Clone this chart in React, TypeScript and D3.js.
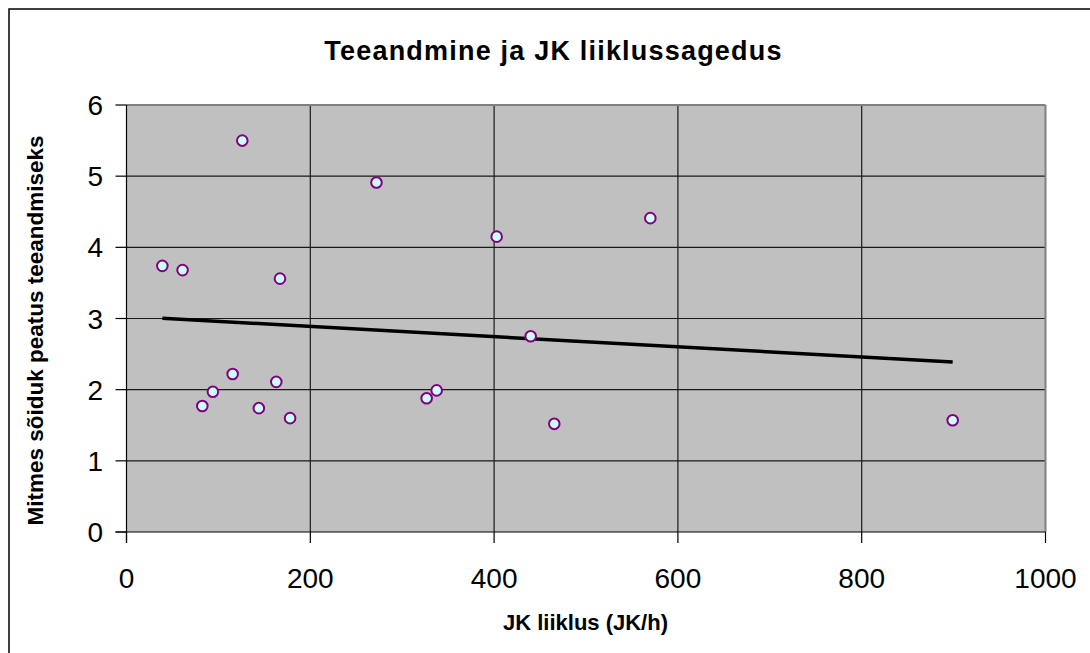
import React from "react";
import * as d3 from "d3";

const traffic = [126, 272, 39, 61, 167, 82.5, 94, 115.5, 144, 163, 178, 326.6, 337.5, 402.8, 570, 439.8, 465.5, 899];
const stops = [5.5, 4.91, 3.74, 3.68, 3.56, 1.77, 1.97, 2.22, 1.74, 2.11, 1.6, 1.88, 1.99, 4.15, 4.41, 2.75, 1.52, 1.57];
const xTicks = [0, 200, 400, 600, 800, 1000];
const yTicks = [0, 1, 2, 3, 4, 5, 6];
const title = "Teeandmine ja JK liiklussagedus";
const xTitle = "JK liiklus (JK/h)";
const yTitle = "Mitmes sõiduk peatus teeandmiseks";

export default function App() {
  const W = 1090, H = 653;
  const left = 126.5, right = 1045.5, top = 105, bottom = 532;
  const x = d3.scaleLinear().domain([0, 1000]).range([left, right]);
  const y = d3.scaleLinear().domain([0, 6]).range([bottom, top]);

  const mx = d3.mean(traffic)!;
  const my = d3.mean(stops)!;
  let sxy = 0, sxx = 0;
  traffic.forEach((v, i) => { sxy += (v - mx) * (stops[i] - my); sxx += (v - mx) * (v - mx); });
  const slope = sxy / sxx;
  const icpt = my - slope * mx;
  const [x0, x1] = d3.extent(traffic) as [number, number];
  const line = d3.line<number>().x(d => x(d)).y(d => y(icpt + slope * d));

  const font = "Arial, 'Liberation Sans', sans-serif";
  return (
    <svg width={W} height={H} style={{ position: "absolute", left: 0, top: 0, background: "#fff" }} fontFamily={font}>
      <rect x={9} y={9} width={1200} height={800} fill="#fff" stroke="#000" strokeWidth={1.5} />
      <text x={553.5} y={60} textAnchor="middle" fontWeight="bold" fontSize={27} letterSpacing={1.2}>{title}</text>
      <rect x={left} y={top} width={right - left} height={bottom - top} fill="#c0c0c0" />
      {xTicks.slice(1, -1).map(t => (
        <line key={"gx" + t} x1={x(t)} x2={x(t)} y1={top} y2={bottom} stroke="#1a1a1a" strokeWidth={1.2} />
      ))}
      {yTicks.slice(1, -1).map(t => (
        <line key={"gy" + t} x1={left} x2={right} y1={y(t)} y2={y(t)} stroke="#1a1a1a" strokeWidth={1.2} />
      ))}
      <line x1={left} x2={right} y1={top} y2={top} stroke="#808080" strokeWidth={2} />
      <line x1={right} x2={right} y1={top} y2={bottom} stroke="#808080" strokeWidth={2} />
      <line x1={left} x2={left} y1={top} y2={bottom + 11} stroke="#000" strokeWidth={1.2} />
      <line x1={left - 11} x2={right} y1={bottom} y2={bottom} stroke="#000" strokeWidth={1.2} />
      {xTicks.map(t => (
        <g key={"xt" + t}>
          <line x1={x(t)} x2={x(t)} y1={bottom} y2={bottom + 11} stroke="#000" strokeWidth={1.2} />
          <text x={x(t)} y={588} textAnchor="middle" fontSize={28}>{t}</text>
        </g>
      ))}
      {yTicks.map(t => (
        <g key={"yt" + t}>
          <line x1={left - 11} x2={left} y1={y(t)} y2={y(t)} stroke="#000" strokeWidth={1.2} />
          <text x={103} y={y(t) + 10} textAnchor="end" fontSize={28}>{t}</text>
        </g>
      ))}
      <path d={line([x0, x1]) || ""} fill="none" stroke="#000" strokeWidth={3.5} />
      {traffic.map((v, i) => (
        <circle key={i} cx={x(v)} cy={y(stops[i])} r={5.3} fill="#ccffff" stroke="#800080" strokeWidth={2} />
      ))}
      <text x={585.5} y={630} textAnchor="middle" fontWeight="bold" fontSize={22}>{xTitle}</text>
      <text transform={`translate(42.5,330.5) rotate(-90)`} textAnchor="middle" fontWeight="bold" fontSize={22.5}>{yTitle}</text>
    </svg>
  );
}
